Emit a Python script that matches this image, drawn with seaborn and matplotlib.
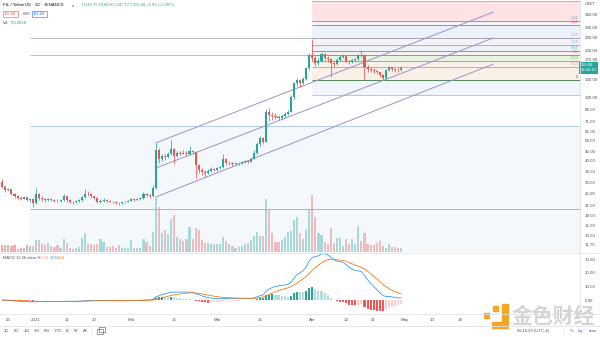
import numpy as np
import pandas as pd
import matplotlib
matplotlib.use("Agg")
import matplotlib.pyplot as plt
from matplotlib.lines import Line2D
from matplotlib.patches import Rectangle
from matplotlib.ticker import NullLocator
import matplotlib.transforms as mtransforms
import seaborn as sns

# ---------------- data (daily FIL/USDT) ----------------
start_date = "2020-12-21"
first_open = 29.5
closes = [27.5, 26.0, 26.4, 24.6, 23.8, 23.4, 23.0, 23.5, 22.6, 22.9,
          21.6, 24.5, 23.3, 22.8, 22.5, 22.8, 22.6, 22.4, 22.3, 22.6,
          23.8, 22.5, 22.0, 21.8, 22.2, 22.5, 23.5, 24.8, 24.6, 23.8,
          23.2, 22.0, 22.4, 22.6, 22.3, 22.1, 21.9, 21.7, 21.5, 21.8,
          22.1, 22.4, 23.0, 22.7, 22.9, 23.2, 24.6, 24.2, 23.8, 27.0,
          47.0, 41.0, 43.0, 42.0, 44.0, 47.5, 43.0, 45.0, 44.5, 45.0,
          44.0, 46.0, 45.5, 37.5, 35.0, 34.0, 33.5, 34.5, 35.5, 35.0,
          36.0, 36.5, 41.0, 38.5, 39.0, 38.0, 39.0, 38.5, 39.5, 40.0,
          39.5, 41.0, 45.0, 51.0, 56.0, 53.0, 82.0, 78.0, 77.0, 76.0,
          75.0, 77.0, 79.0, 82.0, 101.0, 124.0, 130.0, 124.0, 132.0, 155.0,
          187.0, 180.0, 166.0, 172.0, 190.0, 180.0, 176.0, 166.0, 164.0, 174.0,
          183.0, 185.0, 172.0, 168.0, 173.0, 177.0, 188.0, 186.0, 158.0, 152.0,
          150.0, 148.0, 145.0, 140.0, 134.0, 150.0, 156.0, 152.0, 150.5, 149.75,
          155.68]
highs = [30.5, 28.0, 27.0, 26.6, 25.0, 24.3, 23.8, 24.0, 23.7, 23.3,
         23.1, 26.8, 25.0, 23.8, 23.1, 23.2, 23.1, 22.9, 22.8, 23.0,
         24.6, 24.0, 22.8, 22.3, 22.6, 22.9, 24.0, 26.6, 25.6, 24.9,
         24.1, 23.5, 22.8, 23.1, 22.9, 22.6, 22.4, 22.2, 22.0, 22.1,
         22.4, 22.7, 23.4, 23.3, 23.3, 23.6, 25.4, 25.0, 24.5, 28.0,
         52.0, 48.5, 44.5, 44.0, 45.5, 54.0, 48.0, 46.0, 46.0, 46.5,
         46.0, 50.0, 47.0, 46.0, 38.0, 36.0, 35.0, 35.5, 36.3, 36.2,
         36.8, 37.2, 44.0, 41.5, 39.8, 39.5, 39.6, 39.5, 40.0, 40.7,
         40.5, 42.0, 46.5, 52.5, 57.5, 57.0, 85.0, 86.0, 81.0, 80.0,
         78.5, 79.0, 81.0, 84.5, 104.0, 127.0, 134.0, 131.0, 136.0, 158.0,
         192.0, 237.0, 185.0, 178.0, 195.0, 193.0, 184.0, 180.0, 170.0, 178.0,
         187.0, 189.0, 186.0, 175.0, 176.0, 180.0, 191.0, 200.0, 188.0, 162.0,
         156.0, 154.0, 151.0, 147.0, 142.0, 153.0, 159.0, 158.0, 155.0, 154.0,
         160.0]
lows = [27.0, 25.5, 25.6, 24.2, 23.3, 22.9, 22.5, 22.8, 22.2, 22.0,
        20.3, 21.4, 22.7, 22.3, 22.0, 22.2, 22.2, 22.0, 21.9, 22.1,
        22.4, 22.1, 21.5, 21.3, 21.6, 22.0, 22.3, 23.2, 24.0, 23.4,
        22.8, 21.6, 21.7, 22.1, 22.0, 21.8, 21.6, 21.4, 21.1, 21.3,
        21.6, 21.9, 22.2, 22.4, 22.5, 22.7, 23.0, 23.6, 23.3, 23.6,
        26.5, 38.5, 40.0, 40.5, 41.5, 43.5, 38.0, 42.5, 43.5, 44.0,
        43.0, 43.5, 44.5, 31.0, 33.5, 32.5, 31.5, 33.0, 34.0, 34.3,
        34.7, 35.5, 36.2, 37.8, 37.9, 37.3, 37.6, 37.9, 38.2, 39.0,
        38.8, 39.2, 40.8, 44.5, 50.0, 51.0, 52.5, 72.0, 73.0, 73.5,
        72.5, 74.0, 76.0, 78.0, 81.0, 99.0, 119.0, 117.0, 122.0, 130.0,
        150.0, 172.0, 160.0, 162.0, 168.0, 174.0, 170.0, 136.0, 158.0, 162.0,
        172.0, 178.0, 168.0, 164.0, 166.0, 170.0, 175.0, 182.0, 130.0, 146.0,
        146.0, 144.0, 141.0, 135.0, 130.0, 132.0, 148.0, 149.0, 147.0, 146.0,
        147.57]
volume = [7, 7, 7, 6, 7, 3, 4, 4, 7, 6,
          6, 12, 12, 8, 7, 9, 6, 5, 7, 4,
          13, 9, 4, 3, 4, 5, 14, 19, 8, 8,
          7, 8, 13, 10, 5, 5, 6, 4, 7, 4,
          4, 4, 12, 4, 4, 4, 13, 10, 6, 20,
          54, 45, 19, 22, 18, 33, 37, 15, 13, 11,
          13, 25, 13, 24, 22, 12, 9, 9, 8, 8,
          8, 8, 15, 11, 8, 6, 4, 5, 6, 8,
          9, 12, 16, 20, 16, 16, 53, 42, 19, 10,
          10, 12, 15, 20, 21, 32, 35, 19, 13, 22,
          42, 57, 35, 19, 17, 10, 8, 24, 9, 14,
          14, 6, 13, 8, 13, 8, 26, 11, 19, 8,
          7, 7, 9, 11, 6, 4, 8, 5, 5, 4,
          4]

price_ticks = [340, 280, 240, 200, 175, 130, 100, 84, 71, 61, 54, 46, 40,
               34, 29, 25, 21, 18, 15.5, 13.5, 11.75]
macd_ticks = [0, 10, 20, 30]
date_ticks = ["2020-12-23", "2021-01-01", "2021-01-11", "2021-01-20", "2021-02-01",
              "2021-02-15", "2021-03-01", "2021-03-15", "2021-04-01", "2021-04-12",
              "2021-04-21", "2021-05-01", "2021-05-10", "2021-05-19"]
date_labels = ["23", "2021", "11", "20", "Feb", "15", "Mar", "15", "Apr", "12",
               "21", "May", "10", "19"]

# Fibonacci drawing anchored on Apr 1
fib_a_start = "2021-04-01"
fib_a_prices = [411, 307, 290, 240, 216, 198, 187, 171, 157, 130, 104]
fib_a_labels = ["", "1.61", "1.41", "1.27", "1.18", "0.61", "0.5", "0.38", "0.23", "0", ""]
fib_a_line_colors = ["#ef9a9a", "#7e9ed9", "#e57373", "#a7a7b4", "#9fb1d6", "#4db6ac",
                     "#e57373", "#8bc34a", "#d7a3a3", "#4f8a56", "#a9cbe8"]
fib_a_fill_colors = ["#fde3e3", "#f6f3f8", "#ebf2fc", "#f4f4f8", "#eef3f9",
                     "#f8f0f0", "#e6f4e0", "#fcf0ea", "#fbf0e8", "#f0f6fc"]
# Fibonacci drawing anchored on the Dec 30 low
fib_b_start = "2020-12-30"
fib_b_prices = [240, 187, 66.4, 19.8]
fib_b_colors = ["#b9b9c6", "#f0a5a5", "#b3cde9", "#b0b0bf"]
# parallel channel
chan_start, chan_end = "2021-02-09", "2021-05-30"
chan_start_prices = [51.9, 36.0, 23.6]
chan_end_prices = [350.0, 240.0, 164.0]

header_ohlc = "O149.75 H160.00 L147.57 C155.68 +5.93 (+3.96%)"
macd_header_vals = ["-2.76", "1.58", "4.34"]

# ---------------- figure ----------------
sns.set_theme(style="white")
plt.rcParams["font.family"] = ["Liberation Sans", "Noto Sans CJK SC", "DejaVu Sans"]

W, H = 600, 337
fig = plt.figure(figsize=(6, 3.37), dpi=100)
fig.patch.set_facecolor("white")


def rect(l, t, r, b):
    return [l / W, 1 - b / H, (r - l) / W, (b - t) / H]


BASE = pd.Timestamp("2020-12-20")
dates = pd.date_range(start_date, periods=len(closes), freq="D")
xs = (dates - BASE).days.values.astype(float)


def dpos(s):
    return float((pd.Timestamp(s) - BASE).days)


opens = [first_open] + closes[:-1]
df = pd.DataFrame({"x": xs, "open": opens, "close": closes, "high": highs,
                   "low": lows, "volume": volume})
up = df["close"] >= df["open"]
GREEN, RED = "#26a69a", "#ef5350"
df["color"] = np.where(up, GREEN, RED)
df["vcolor"] = np.where(up, "#8fd3cc", "#f6a9a7")

X0, X1 = 0.27, 189.2
PLOT_R = 580

ax_vol = fig.add_axes(rect(0, 0, PLOT_R, 252))
ax = fig.add_axes(rect(0, 0, PLOT_R, 252), sharex=ax_vol)
ax.patch.set_alpha(0)
ax_m = fig.add_axes(rect(0, 253, PLOT_R, 314), sharex=ax_vol)

# volume
ax_vol.bar(df["x"], df["volume"], width=0.7, color=df["vcolor"], linewidth=0)
ax_vol.set_ylim(0, df["volume"].max() * 4.42)
ax_vol.set_yticks([])

# price axes
ax.set_yscale("log")
ax.set_ylim(10.59, 417)
ax.set_xlim(X0, X1)

# fib B
xb = dpos(fib_b_start)
ax.fill_between([xb, X1], 10.59, fib_b_prices[2], color="#dce8f5", alpha=0.3,
                linewidth=0, zorder=0)
for p, c in zip(fib_b_prices, fib_b_colors):
    ax.hlines(p, xb, X1, colors=c, lw=0.7, zorder=1)

# fib A
xa = dpos(fib_a_start)
for i in range(len(fib_a_prices) - 1):
    ax.fill_between([xa, X1], fib_a_prices[i + 1], fib_a_prices[i],
                    color=fib_a_fill_colors[i], linewidth=0, zorder=0)
for p, c, lab in zip(fib_a_prices, fib_a_line_colors, fib_a_labels):
    ax.hlines(p, xa, X1, colors=c, lw=0.7, zorder=1)
    if lab:
        ax.annotate(lab, (X1 - 0.6, p), xytext=(0, 0.6), textcoords="offset points",
                    ha="right", va="bottom", fontsize=2.9, color=c)

# channel
for p0, p1 in zip(chan_start_prices, chan_end_prices):
    ax.plot([dpos(chan_start), dpos(chan_end)], [p0, p1], color="#9d90cf", lw=0.7, zorder=2)

# candles
ax.vlines(df["x"], df["low"], df["high"], colors=df["color"], lw=0.55, zorder=3)
body_lo = np.minimum(df["open"], df["close"])
body_h = np.maximum(np.abs(df["close"] - df["open"]), df["close"] * 0.006)
ax.bar(df["x"], body_h, bottom=body_lo, width=0.68, color=df["color"], linewidth=0, zorder=4)

ax.yaxis.tick_right()
ax.set_yticks(price_ticks)
ax.set_yticklabels([f"{t:.2f}" for t in price_ticks])
ax.yaxis.set_minor_locator(NullLocator())
ax.tick_params(axis="y", length=0, pad=3.5, labelsize=3.2, colors="#50535e")
ax.tick_params(axis="x", bottom=False, labelbottom=False)
ax_vol.tick_params(axis="x", bottom=False, labelbottom=False)

# price tag
tr = mtransforms.blended_transform_factory(ax.transAxes, ax.transData)
ax.text(1.0015, closes[-1], f"{closes[-1]:.2f}\n13:43:10", transform=tr, ha="left",
        va="center", fontsize=3.0, color="white", linespacing=1.1, clip_on=False,
        bbox=dict(boxstyle="square,pad=0.45", fc=GREEN, ec="none"), zorder=10)

# ---------------- MACD ----------------
cs = pd.Series(closes)
macd = cs.ewm(span=12, adjust=False).mean() - cs.ewm(span=26, adjust=False).mean()
signal = macd.ewm(span=9, adjust=False).mean()
hist = macd - signal
prev = hist.shift(1).fillna(0)
hcol = np.where(hist >= 0, np.where(hist >= prev, "#26a69a", "#b2dfdb"),
                np.where(hist < prev, "#ff5252", "#ffcdd2"))
ax_m.bar(xs, hist, width=0.68, color=hcol, linewidth=0)
sns.lineplot(x=xs, y=macd.values, ax=ax_m, color="#2196f3", lw=0.55)
sns.lineplot(x=xs, y=signal.values, ax=ax_m, color="#ff6d00", lw=0.55)
ax_m.set_ylim(-10.2, 34.4)
ax_m.set_xlim(X0, X1)
ax_m.yaxis.tick_right()
ax_m.set_yticks(macd_ticks)
ax_m.set_yticklabels([f"{t:.2f}" for t in macd_ticks])
ax_m.tick_params(axis="y", length=0, pad=3.5, labelsize=3.2, colors="#50535e")
ax_m.set_xticks([dpos(s) for s in date_ticks])
ax_m.set_xticklabels(date_labels)
ax_m.tick_params(axis="x", length=0, pad=3.2, labelsize=3.2, colors="#50535e")
ax_m.set_xlabel("")
ax_m.set_ylabel("")

for a in (ax, ax_vol, ax_m):
    for s in a.spines.values():
        s.set_visible(False)
    a.grid(False)


# ---------------- frame lines ----------------
def fline(x0, y0, x1, y1, c="#e0e3eb", lw=0.6):
    fig.add_artist(Line2D([x0 / W, x1 / W], [1 - y0 / H, 1 - y1 / H], color=c, lw=lw))


fline(PLOT_R, 0, PLOT_R, 314)
fline(0, 252.5, W, 252.5)
fline(0, 314, W, 314)
fline(0, 325.5, W, 325.5)


# ---------------- header texts ----------------
def ftext(x, y, s, **kw):
    kw.setdefault("fontsize", 3.2)
    kw.setdefault("va", "center")
    return fig.text(x / W, 1 - y / H, s, **kw)


ftext(3, 5, "FIL / TetherUS · 1D · BINANCE", color="#131722")
ftext(72, 5, "●", color=GREEN, fontsize=2.6)
ftext(82, 5, header_ohlc, color=GREEN, fontsize=2.9)
ftext(4, 14, "155.68", color=RED, fontsize=2.9,
      bbox=dict(boxstyle="square,pad=0.35", fc="white", ec=RED, lw=0.4))
ftext(22.5, 14, "0.00", color="#50535e", fontsize=2.9)
ftext(33, 14, "155.69", color="#2962ff", fontsize=2.9,
      bbox=dict(boxstyle="square,pad=0.35", fc="white", ec="#2962ff", lw=0.4))
ftext(3, 22.5, "Vol", color="#50535e", fontsize=2.9)
ftext(10, 22.5, "774.883K", color=GREEN, fontsize=2.9)
ftext(585, 4, "USDT", color="#50535e", fontsize=2.9)

ftext(3, 258, "MACD 12 26 close 9", color="#50535e", fontsize=2.9)
ftext(40, 258, macd_header_vals[0], color="#f28b82", fontsize=2.9)
ftext(50, 258, macd_header_vals[1], color="#2196f3", fontsize=2.9)
ftext(57, 258, macd_header_vals[2], color="#ff6d00", fontsize=2.9)

# bottom toolbar
for lab, xp in zip(["1D", "5D", "1M", "3M", "6M", "YTD", "1Y", "5Y", "All"],
                   [4, 14, 24, 34, 44, 54, 65, 74, 83]):
    ftext(xp, 331, lab, color="#50535e", fontsize=3.0)
ftext(92, 331, "|", color="#c0c3cc", fontsize=3.0)
# small calendar-like icon drawn as shapes
fig.add_artist(Rectangle((97 / W, 1 - 333.5 / H), 6 / W, 5 / H, fill=False,
                         ec="#50535e", lw=0.4))
fig.add_artist(Rectangle((99 / W, 1 - 331.5 / H), 6 / W, 5 / H, fill=False,
                         ec="#50535e", lw=0.4))
ftext(517, 331, "06:16:50 (UTC-4)", color="#50535e", fontsize=3.0)
ftext(563, 331, "|", color="#c0c3cc", fontsize=3.0)
ftext(570, 331, "%", color="#50535e", fontsize=3.0)
ftext(578, 331, "log", color="#2962ff", fontsize=3.0)
ftext(589, 331, "auto", color="#50535e", fontsize=3.0)

# watermark
ORANGE = "#f5a623"
fig.add_artist(Rectangle((484 / W, 1 - 318 / H), 5 / W, 5 / H, color=ORANGE))
fig.add_artist(Rectangle((502 / W, 1 - 328 / H), 6 / W, 24 / H, color=ORANGE))
fig.add_artist(Rectangle((492 / W, 1 - 328 / H), 14 / W, 6 / H, color=ORANGE))
fig.add_artist(Rectangle((493 / W, 1 - 311 / H), 5 / W, 5 / H, color=ORANGE))
ftext(512, 316, "金色财经", color="#d4d4d4", fontsize=15, family=["Noto Sans CJK SC"],
      fontweight="bold")

fig.savefig("out.png", dpi=100, facecolor="white")
